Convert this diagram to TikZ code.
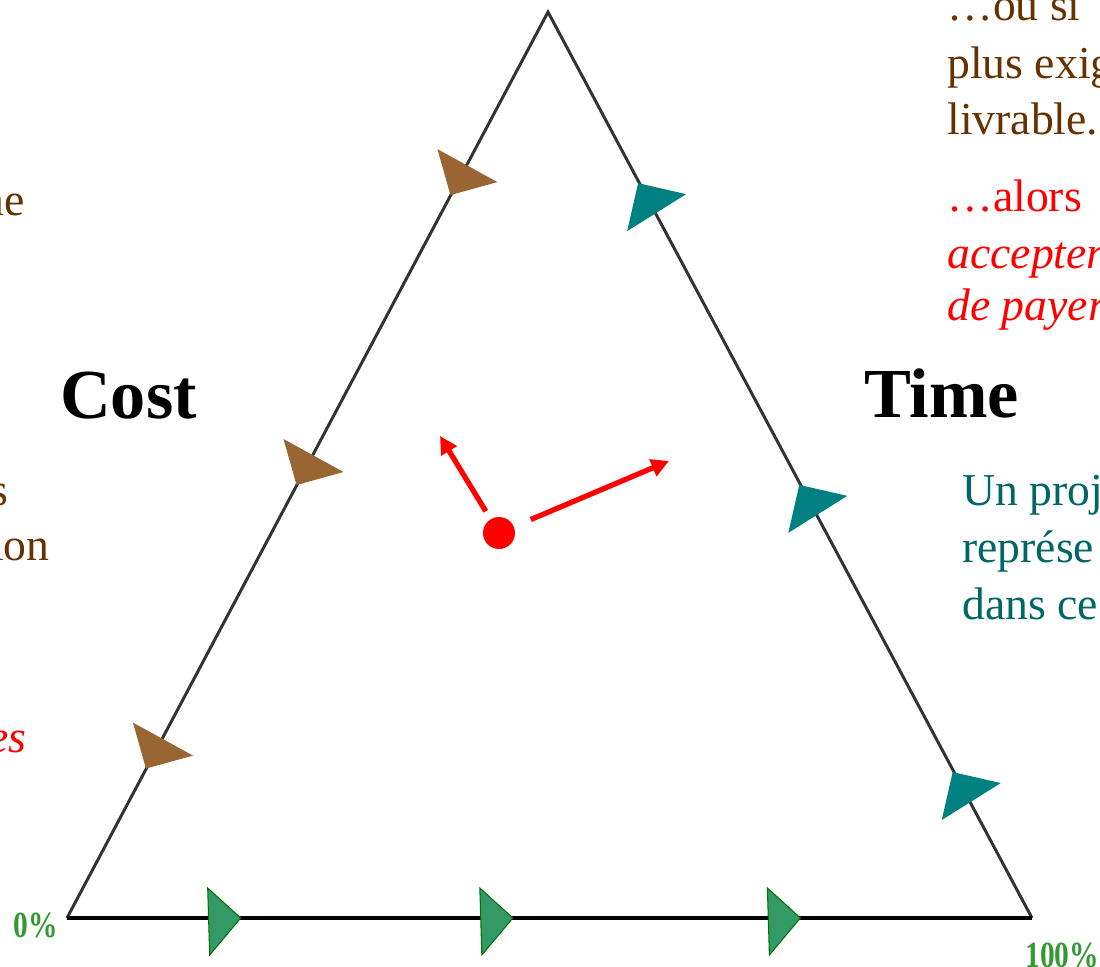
\documentclass[tikz,border=0pt]{standalone}
\usepackage{fontspec}
\setmainfont{Liberation Serif}
\usetikzlibrary{arrows.meta,positioning,calc}

\definecolor{costbrown}{HTML}{996633}
\definecolor{timeteal}{HTML}{008080}
\definecolor{scopegreen}{HTML}{339966}
\definecolor{textbrown}{HTML}{663300}
\definecolor{textteal}{HTML}{006666}
\definecolor{pctgreen}{HTML}{339933}

\begin{document}
\begin{tikzpicture}[x=0.02cm, y=-0.02cm,
  side/.style={draw=black!80, line width=1.7pt},
  baseline side/.style={draw=black, line width=2.4pt},
  body/.style={font=\fontsize{26}{32}\selectfont, inner sep=0pt},
  corner/.style={font=\fontsize{40}{48}\selectfont\bfseries, inner sep=0pt, anchor=base},
  pct/.style={font=\fontsize{21}{24}\selectfont\bfseries, text=pctgreen, inner sep=0pt},
  push/.style={draw=red, line width=3pt, -{Triangle[length=10pt, width=10pt]}}]
  \useasboundingbox (0,0) rectangle (1100,967);

  % triangle corners
  \coordinate (apex) at (548,12);
  \coordinate (bl) at (67,918);
  \coordinate (br) at (1032,918);
  \draw[side] (bl) -- (apex) -- (br);
  \draw[baseline side] (bl) -- (br);

  % direction marks on the sides
  \foreach \t in {0.187,0.5,0.82}
    \fill[costbrown] ($(bl)!\t!(apex)$) ++(-24,-26) -- ++(60,33) -- ++(-47,13) -- cycle;
  \foreach \t in {0.211,0.544,0.861}
    \fill[timeteal] ($(apex)!\t!(br)$) ++(-12,-20) -- ++(48,11) -- ++(-59,37) -- cycle;
  \foreach \t in {0.18,0.462,0.76}
    \filldraw[fill=scopegreen, draw=green!45!black, line width=0.6pt]
      ($(bl)!\t!(br)$) -- ++(-33,-30) -- ++(2,67) -- cycle;

  % the project point and its pulls
  \node[circle, fill=red, minimum size=0.64cm, inner sep=0pt, outer sep=0pt] (dot) at (499,533) {};
  \coordinate (costend) at (440,436);
  \coordinate (timeend) at (669,461);
  \draw[push, shorten <=0.19cm] (dot) -- (costend);
  \draw[push, shorten <=0.37cm] (dot) -- (timeend);

  % corner labels
  \node[corner] (cost) at (128.5,418) {Cost};
  \node[corner] (time) at (941.5,417) {Time};
  \node[pct] (zero) at (36,925) {\scalebox{0.8}[1]{0\%}};
  \node[pct, anchor=west] (hundred) at (1025,955) {\scalebox{0.8}[1]{100\%}};

  % text on the left (cut by the page edge)
  \node[body, text=textbrown, anchor=base east] (left1) at (25,215) {ne};
  \node[body, text=textbrown, anchor=base east] (left2) at (9,505) {s};
  \node[body, text=textbrown, anchor=base east] (left3) at (50,560) {ion};
  \node[body, text=red, anchor=base east] (left4) at (27,752) {\itshape es};

  % text on the right (cut by the page edge)
  \node[body, text=textbrown, anchor=base west] (ou1) at (947,20) {…ou si};
  \node[body, text=textbrown, anchor=base west] (ou2) at (947,78) {plus exig};
  \node[body, text=textbrown, anchor=base west] (ou3) at (947,134) {livrable.};
  \node[body, text=red, anchor=base west] (alors1) at (947,211) {…alors};
  \node[body, text=red, anchor=base west] (alors2) at (947,268) {\itshape accepter};
  \node[body, text=red, anchor=base west] (alors3) at (947,320) {\itshape de payer};
  \node[body, text=textteal, anchor=base west] (proj1) at (962,505) {Un proj};
  \node[body, text=textteal, anchor=base west] (proj2) at (962,562) {représe};
  \node[body, text=textteal, anchor=base west] (proj3) at (962,619) {dans ce};
\end{tikzpicture}
\end{document}
